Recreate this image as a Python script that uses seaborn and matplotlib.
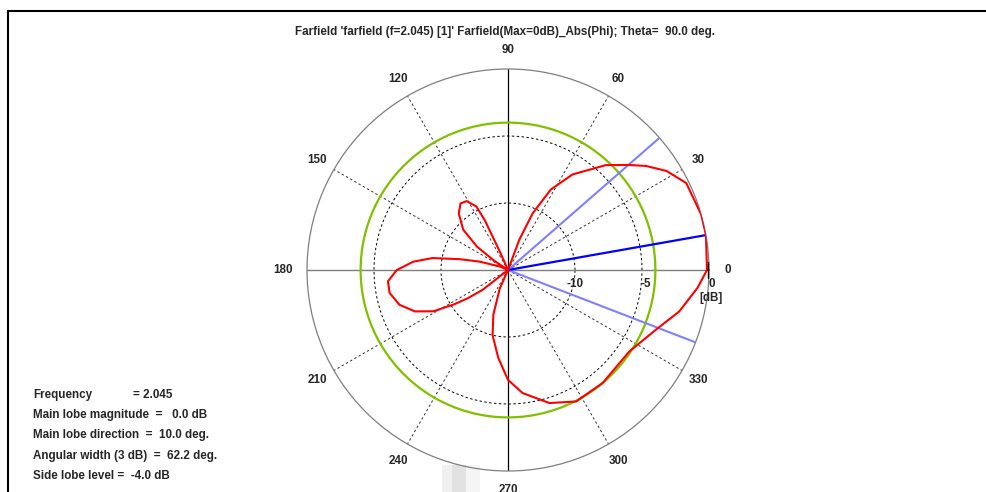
import numpy as np
import pandas as pd
import matplotlib
matplotlib.use("Agg")
import matplotlib.pyplot as plt
import seaborn as sns
from matplotlib.lines import Line2D
from matplotlib.patches import Rectangle

# ---- data ----
pattern_angle_deg = [0, 10, 16, 26, 32, 37, 41, 47, 56, 62, 66.5, 69.5, 73, 90,
                     112, 114, 115, 116.5, 121, 125.5, 131, 138, 143, 146, 149,
                     152, 157, 163.5, 167.4, 171, 175, 180, 185.4, 191, 197.8,
                     204, 209, 212.4, 215, 218, 221, 232, 243, 246, 251.8, 256.7,
                     263.7, 270, 276.8, 287.3, 297.4, 310, 326, 338, 346.4,
                     354.6, 360]
pattern_db = [-0.15, 0.0, 0.0, -0.2, -1.05, -2.1, -3.05, -4.3, -6.4, -8.2, -10.4,
              -12.6, -15.5, -20,
              -20, -13.5, -10.9, -9.7, -9.0, -8.9, -9.4, -10.5, -12.1, -13.7, -20,
              -20, -14.35, -12.8, -11.3, -9.3, -7.9, -6.7, -6.0, -6.0, -6.5,
              -7.4, -8.65, -10.2, -11.3, -12.6, -15.5, -20, -15.5, -13.5, -11.5,
              -10.0, -8.4, -6.8, -5.75, -4.6, -3.95, -4.0, -4.1, -3.1, -1.85,
              -0.8, -0.15]

main_lobe_dir = 10.0
beam_width = 62.2
side_lobe_level = -4.0
db_range = 15.0
radial_ticks = [-10, -5, 0]
angle_ticks = [0, 30, 60, 90, 120, 150, 180, 210, 240, 270, 300, 330]

title = "Farfield 'farfield (f=2.045) [1]' Farfield(Max=0dB)_Abs(Phi); Theta=  90.0 deg."
info_lines = ["Main lobe magnitude  =   0.0 dB",
              "Main lobe direction  =  10.0 deg.",
              "Angular width (3 dB)  =  62.2 deg.",
              "Side lobe level =  -4.0 dB"]

# ---- figure ----
sns.set_style("white")
plt.rcParams['font.family'] = ['Liberation Sans', 'DejaVu Sans']
W, H = 986, 492
fig = plt.figure(figsize=(W / 100, H / 100), dpi=100)

cx, cy, R = 508, 270, 201
ax = fig.add_axes([(cx - R) / W, 1 - (cy + R) / H, 2 * R / W, 2 * R / H],
                  projection='polar')
ax.patch.set_alpha(0)
ax.set_ylim(0, db_range)
ax.grid(False)
ax.set_xticks([])
ax.set_yticks([])
ax.spines['polar'].set_color('#7f7f7f')
ax.spines['polar'].set_linewidth(0.9)

def rr(db):
    return np.clip(np.asarray(db, dtype=float) + db_range, 0, None)

full = np.linspace(0, 2 * np.pi, 400)
# dashed rings
for lvl in [-10, -5]:
    ax.plot(full, np.full_like(full, rr(lvl)), color='black', lw=0.7,
            ls=(0, (2.5, 2.5)), zorder=2)
# dashed spokes
for a in angle_ticks:
    if a % 90 == 0:
        continue
    ax.plot([np.deg2rad(a)] * 2, [0, db_range], color='#333333', lw=0.7,
            ls=(0, (2.5, 2.5)), zorder=2)
# axes lines
ax.plot([0, 0], [0, db_range], color='#7f7f7f', lw=1.0, zorder=2)
ax.plot([np.pi, np.pi], [0, db_range], color='#7f7f7f', lw=1.0, zorder=2)
ax.plot([np.pi / 2] * 2, [0, db_range], color='black', lw=0.9, zorder=2)
ax.plot([3 * np.pi / 2] * 2, [0, db_range], color='black', lw=0.9, zorder=2)

# side lobe level circle
ax.plot(full, np.full_like(full, rr(side_lobe_level)), color='#80c000', lw=1.6, zorder=3)

# beam width lines
for a in [main_lobe_dir + beam_width / 2, main_lobe_dir - beam_width / 2]:
    ax.plot([np.deg2rad(a)] * 2, [0, db_range], color='#8080ff', lw=1.5, zorder=3)
ax.plot([np.deg2rad(main_lobe_dir)] * 2, [0, db_range], color='#0000ff', lw=1.6, zorder=4)

# pattern
df = pd.DataFrame({"theta": np.deg2rad(pattern_angle_deg), "r": rr(pattern_db)})
sns.lineplot(data=df, x="theta", y="r", sort=False, color='#ff0000', lw=1.5,
             ax=ax, zorder=5)
ax.set_xlabel("")
ax.set_ylabel("")
ax.set_ylim(0, db_range)

# angle labels
fs = 8.4
for a in angle_ticks:
    t = np.deg2rad(a)
    rad = 220 if a != 180 else 225
    x = cx + rad * np.cos(t)
    y = cy - rad * np.sin(t)
    fig.text(x / W, 1 - y / H, str(a), ha='center', va='center', fontsize=fs,
             fontweight='bold')

# radial labels
for v, dx in zip(radial_ticks, [0, 4, 3]):
    x = cx + rr(v) / db_range * R
    fig.text((x + dx) / W, 1 - 284 / H, str(v), ha='center', va='center',
             fontsize=fs, fontweight='bold')
fig.text(711 / W, 1 - 298 / H, "[dB]", ha='center', va='center', fontsize=fs,
         fontweight='bold')
fig.add_artist(Line2D([708 / W, 708 / W], [1 - 262 / H, 1 - 278 / H],
                      color='black', lw=1.0))

# title
fig.text(505 / W, 1 - 32 / H, title, ha='center', va='center', fontsize=fs,
         fontweight='bold')

# info text
fig.text(33 / W, 1 - 395 / H, "Frequency", ha='left', va='center', fontsize=fs,
         fontweight='bold')
fig.text(133 / W, 1 - 395 / H, "= 2.045", ha='left', va='center', fontsize=fs,
         fontweight='bold')
for i, s in enumerate(info_lines):
    fig.text(33 / W, 1 - (415 + 20.3 * i) / H, s, ha='left', va='center',
             fontsize=fs, fontweight='bold')

# border
fig.add_artist(Line2D([8 / W, 1], [1 - 11 / H, 1 - 11 / H], color='black', lw=1.5))
fig.add_artist(Line2D([8 / W, 8 / W], [0, 1 - 11 / H], color='black', lw=1.5))

# faint gray artefact near the bottom
for x0, x1, c in [(442, 452, '#f0f0f0'), (452, 466, '#e2e2e2'), (466, 480, '#f5f5f5')]:
    fig.add_artist(Rectangle((x0 / W, 0), (x1 - x0) / W, 27 / H,
                             transform=fig.transFigure, color=c, lw=0, zorder=-1))

fig.savefig("out.png", dpi=100)
